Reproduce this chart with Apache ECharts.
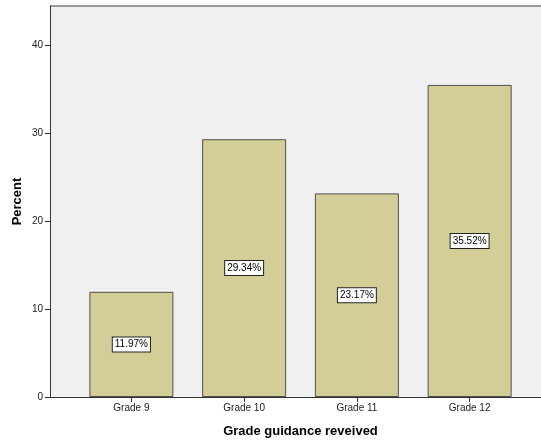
<!DOCTYPE html>
<html>
<head>
<meta charset="utf-8">
<script src="https://cdn.jsdelivr.net/npm/echarts@6/dist/echarts.min.js"></script>
<style>
  html, body { margin: 0; padding: 0; background: #ffffff; }
  #chart { width: 541px; height: 441px; }
</style>
</head>
<body>
<div id="chart"></div>
<script>
// Share of students by the grade in which guidance was received
const categories = ['Grade 9', 'Grade 10', 'Grade 11', 'Grade 12'];
const percentValues = [11.97, 29.34, 23.17, 35.52];
const yTicks = [0, 10, 20, 30, 40];

const yMax = 44.5;
const font = 'Arial, "Liberation Sans", sans-serif';

const chart = echarts.init(document.getElementById('chart'), null, { renderer: 'canvas' });

chart.setOption({
  animation: false,
  textStyle: { fontFamily: font },
  grid: [
    // outer frame: shaded plot area, y axis and full-width baseline
    { left: 50, right: 0, top: 6, bottom: 44, show: true, backgroundColor: '#f0f0f0', borderWidth: 0,
      containLabel: false, outerBoundsMode: 'none' },
    // inner band where the categories are laid out
    { left: 75, right: 15, top: 6, bottom: 44, containLabel: false, outerBoundsMode: 'none' }
  ],
  graphic: [{
    type: 'line',
    shape: { x1: 50, y1: 6, x2: 541, y2: 6 },
    style: { stroke: '#9a9a9a', lineWidth: 2 }
  }],
  xAxis: [
    {
      gridIndex: 0, type: 'value', min: 0, max: 1,
      axisLine: { show: true, onZero: false, lineStyle: { color: '#333', width: 1 } },
      axisTick: { show: false }, axisLabel: { show: false }, splitLine: { show: false }
    },
    {
      gridIndex: 1, type: 'category', data: categories,
      name: 'Grade guidance reveived', nameLocation: 'middle', nameGap: 28,
      nameTextStyle: { fontFamily: font, fontSize: 13, fontWeight: 'bold', color: '#000' },
      axisLine: { show: false },
      axisTick: { show: true, alignWithLabel: true, length: 5, lineStyle: { color: '#333' } },
      axisLabel: { fontFamily: font, fontSize: 10, color: '#222', margin: 6 },
      splitLine: { show: false }
    }
  ],
  yAxis: [
    {
      gridIndex: 0, type: 'value', min: 0, max: yMax, interval: 10,
      name: 'Percent', nameLocation: 'middle', nameGap: 26, nameRotate: 90,
      nameMoveOverlap: false,
      nameTextStyle: { fontFamily: font, fontSize: 13, fontWeight: 'bold', color: '#000' },
      axisLine: { show: true, lineStyle: { color: '#333', width: 1 } },
      axisTick: { show: true, length: 5, customValues: yTicks, lineStyle: { color: '#333' } },
      axisLabel: {
        fontFamily: font, fontSize: 10, color: '#222', margin: 7,
        customValues: yTicks
      },
      splitLine: { show: false }
    },
    {
      gridIndex: 1, type: 'value', min: 0, max: yMax, show: false
    }
  ],
  series: [{
    type: 'bar',
    xAxisIndex: 1, yAxisIndex: 1,
    data: percentValues,
    barWidth: 84,
    itemStyle: { color: '#d3ce97', borderColor: '#4f4f4f', borderWidth: 1 },
    label: {
      show: true, position: 'inside',
      formatter: p => p.value.toFixed(2) + '%',
      fontFamily: font, fontSize: 10, lineHeight: 11, color: '#000',
      backgroundColor: '#ffffff', borderColor: '#222', borderWidth: 1,
      padding: [2, 2, 1, 2]
    }
  }]
});
</script>
</body>
</html>
